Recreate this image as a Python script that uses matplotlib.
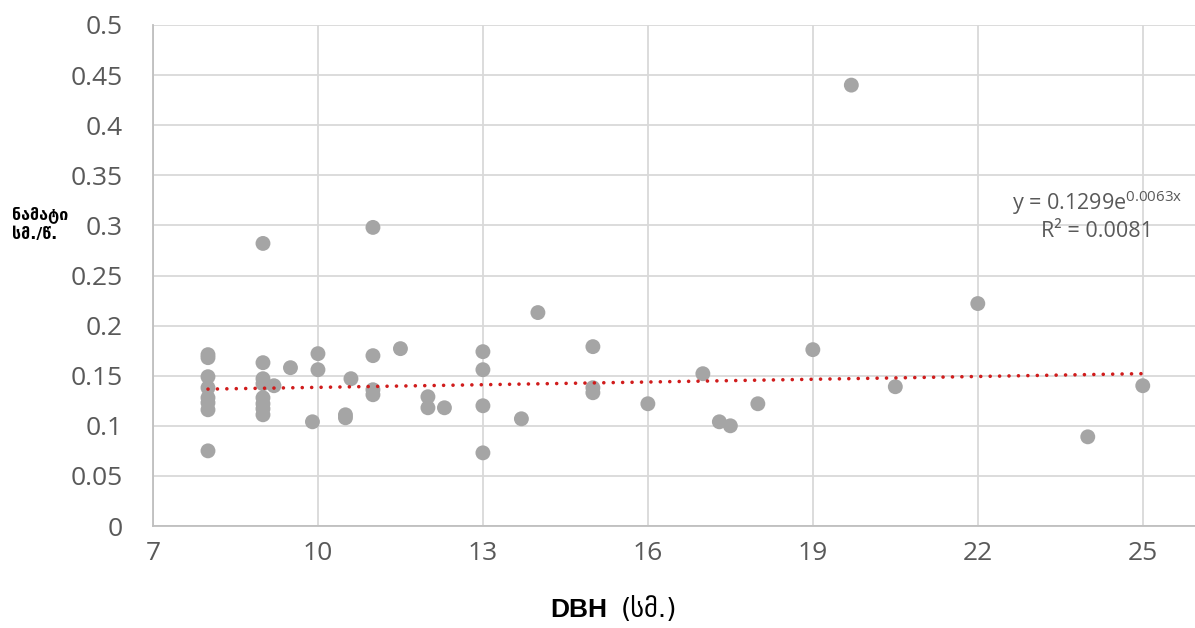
import numpy as np
import matplotlib.pyplot as plt

# DBH (cm) vs increment values
dbh = [8, 8, 8, 8, 8, 8, 8, 8,
       9, 9, 9, 9, 9, 9, 9, 9,
       9.2, 9.5, 10, 10, 9.9, 10.5, 10.5, 10.6,
       11, 11, 11, 11, 11.5, 12, 12, 12.3,
       13, 13, 13, 13, 13.7, 14, 15, 15, 15,
       16, 17, 17.3, 17.5, 18, 19, 19.7, 20.5, 22, 24, 25]
growth = [0.171, 0.168, 0.149, 0.138, 0.128, 0.123, 0.116, 0.075,
          0.282, 0.163, 0.147, 0.142, 0.128, 0.122, 0.117, 0.111,
          0.140, 0.158, 0.172, 0.156, 0.104, 0.111, 0.108, 0.147,
          0.298, 0.170, 0.136, 0.131, 0.177, 0.129, 0.118, 0.118,
          0.174, 0.156, 0.120, 0.073, 0.107, 0.213, 0.179, 0.138, 0.133,
          0.122, 0.152, 0.104, 0.100, 0.122, 0.176, 0.440, 0.139, 0.222, 0.089, 0.140]

# exponential trendline y = a * e^(b x)
trend_a = 0.1299
trend_b = 0.0063

xticks = [7, 10, 13, 16, 19, 22, 25]
yticks = np.arange(0, 0.51, 0.05)
ytick_labels = ["0", "0.05", "0.1", "0.15", "0.2", "0.25", "0.3", "0.35", "0.4", "0.45", "0.5"]

plt.rcParams["font.family"] = ["Open Sans", "DejaVu Sans"]
plt.rcParams["mathtext.fontset"] = "custom"
plt.rcParams["mathtext.rm"] = "Open Sans"
plt.rcParams["mathtext.it"] = "Open Sans"

W, H = 1195, 628
fig = plt.figure(figsize=(W / 100, H / 100), dpi=100)
ax = fig.add_axes([153 / W, (H - 526) / H, (W - 153) / W, (526 - 25) / H])

ax.set_xlim(7, 25.95)
ax.set_ylim(0, 0.5)
ax.set_xticks(xticks)
ax.set_yticks(yticks)
ax.set_yticklabels(ytick_labels)
ax.tick_params(length=0, labelsize=19, labelcolor="#595959", pad=22)
ax.tick_params(axis="x", pad=11)

ax.grid(True, color="#d9d9d9", lw=1.3, zorder=0)
for s in ["top", "right"]:
    ax.spines[s].set_visible(False)
for s in ["left", "bottom"]:
    ax.spines[s].set_color("#bfbfbf")
    ax.spines[s].set_linewidth(1.3)

ax.scatter(dbh, growth, s=115, color="#a5a5a5", edgecolors="none", zorder=3)

tx = np.linspace(8, 25, 200)
ax.plot(tx, trend_a * np.exp(trend_b * tx), color="#d01c1c", lw=2.6,
        linestyle=(0, (0.01, 2.6)), dash_capstyle="round", zorder=4)

# trendline equation
fig.text(1097 / W, 1 - 203 / H, r"y = 0.1299e$^{\mathrm{0.0063x}}$", ha="center", va="center",
         fontsize=15.5, color="#595959")
fig.text(1097 / W, 1 - 232 / H, "R² = 0.0081", ha="center", va="center",
         fontsize=15.5, color="#595959")

# axis titles
fig.text(12 / W, 1 - 215 / H, "ნამატი", ha="left", va="center", fontsize=11.5,
         fontweight="bold", family="DejaVu Sans", color="black")
fig.text(12 / W, 1 - 234 / H, "სმ./წ.", ha="left", va="center", fontsize=11.5,
         fontweight="bold", family="DejaVu Sans", color="black")
fig.text(550 / W, 1 - 610 / H, "DBH", ha="left", va="center", fontsize=19,
         fontweight="bold", family="Liberation Sans", color="black")
fig.text(621 / W, 1 - 610 / H, "(სმ.)", ha="left", va="center", fontsize=19,
         family="DejaVu Sans", color="black")

fig.savefig("out.png", dpi=100)
